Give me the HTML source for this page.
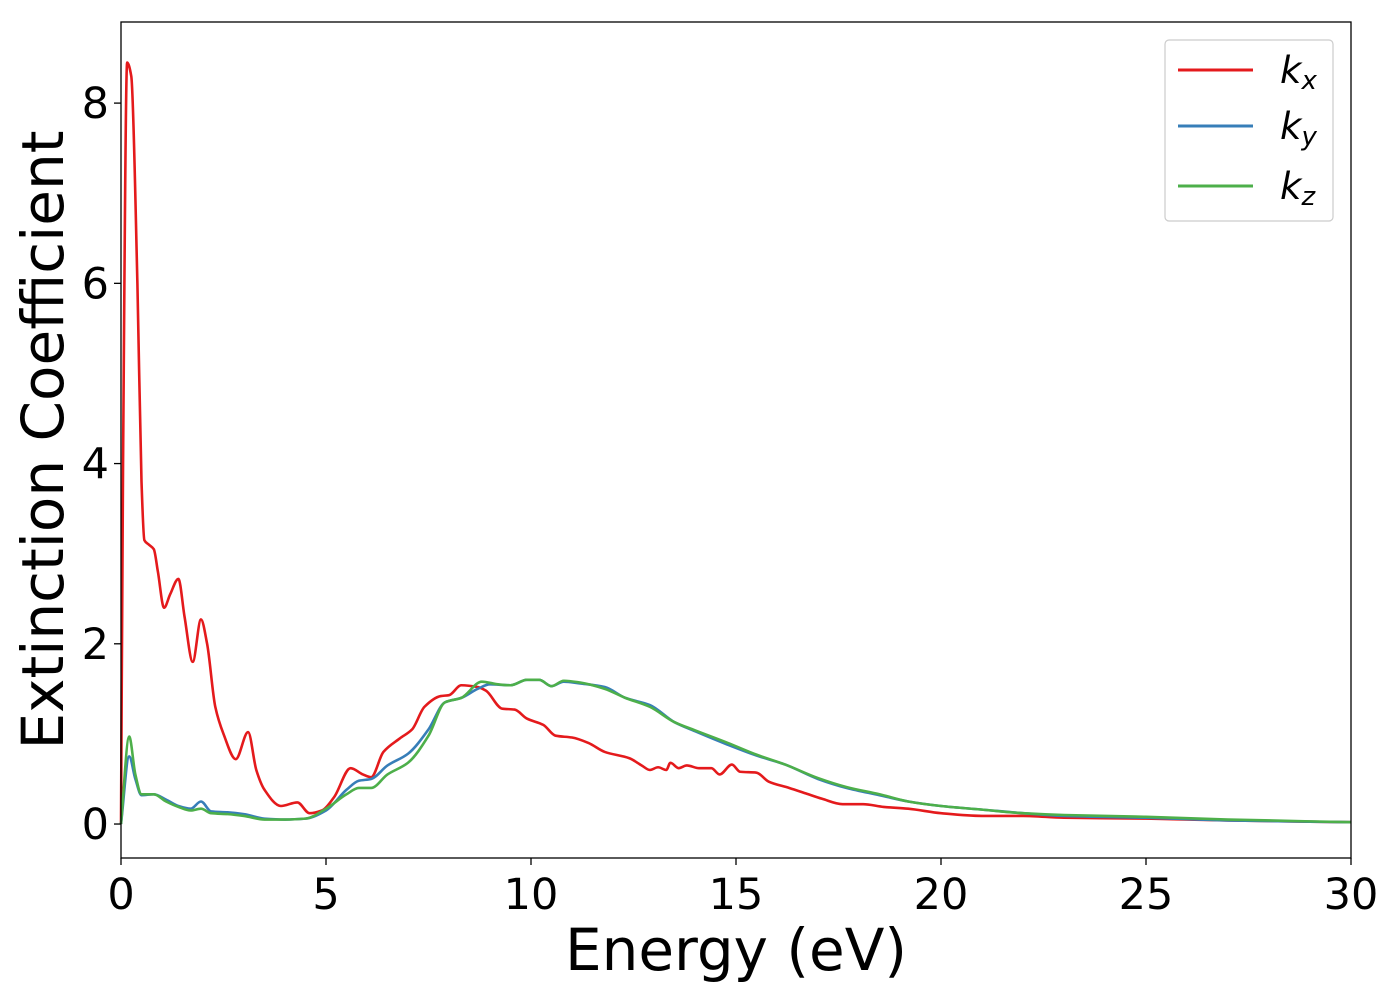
<!DOCTYPE html>
<html><head><meta charset="utf-8"><style>
html,body{margin:0;padding:0;background:#fff;}
svg{display:block;font-family:"DejaVu Sans","Liberation Sans",sans-serif;}
</style></head><body>
<svg id="chart" width="1400" height="1000" viewBox="0 0 1400 1000" xmlns="http://www.w3.org/2000/svg">
<rect width="1400" height="1000" fill="#fff"/>
<g id="series"></g>
<rect x="121" y="22" width="1230" height="836" fill="none" stroke="#000" stroke-width="1.3"/>
<g id="ticks"></g>
<text x="736" y="970" font-size="58" text-anchor="middle">Energy (eV)</text>
<text transform="translate(63,440) rotate(-90)" font-size="58" text-anchor="middle">Extinction Coefficient</text>
<g>
<rect x="1165" y="40" width="168" height="181" rx="4" fill="#fff" stroke="#ccc" stroke-width="1.2"/>
<line x1="1178" y1="70" x2="1253" y2="70" stroke="#e41a1c" stroke-width="3"/>
<line x1="1178" y1="126" x2="1253" y2="126" stroke="#377eb8" stroke-width="3"/>
<line x1="1178" y1="186" x2="1253" y2="186" stroke="#4daf4a" stroke-width="3"/>
<text x="1280" y="83" font-size="37" font-style="italic">k<tspan font-size="26" dy="6">x</tspan></text>
<text x="1280" y="139" font-size="37" font-style="italic">k<tspan font-size="26" dy="6">y</tspan></text>
<text x="1280" y="199" font-size="37" font-style="italic">k<tspan font-size="26" dy="6">z</tspan></text>
</g>
</svg>
<script>
const xTicks = [0,5,10,15,20,25,30];
const yTicks = [0,2,4,6,8];
const kxE = [0,0.05,0.15,0.25,0.4,0.5,0.57,0.68,0.8,0.9,1.05,1.2,1.4,1.55,1.75,1.95,2.1,2.3,2.5,2.8,3.1,3.3,3.5,3.9,4.3,4.6,4.9,5.2,5.6,5.9,6.1,6.4,6.8,7.1,7.4,7.8,8.0,8.3,8.7,8.9,9.3,9.6,9.9,10.3,10.6,11.0,11.4,11.8,12.4,12.7,12.9,13.1,13.3,13.4,13.6,13.8,14.1,14.4,14.6,14.9,15.1,15.5,15.8,16.3,16.7,17.1,17.6,18.1,18.6,19.2,20,21,22,23,25,27,30];
const kxV = [0,4.0,8.45,8.3,6.0,3.8,3.15,3.1,3.05,2.8,2.4,2.55,2.72,2.3,1.8,2.27,2.0,1.3,1.0,0.72,1.02,0.6,0.38,0.2,0.24,0.12,0.15,0.3,0.62,0.55,0.52,0.8,0.95,1.05,1.3,1.42,1.43,1.54,1.52,1.48,1.28,1.27,1.17,1.1,0.98,0.96,0.9,0.8,0.73,0.65,0.6,0.63,0.6,0.68,0.62,0.65,0.62,0.62,0.55,0.66,0.58,0.57,0.47,0.4,0.34,0.28,0.22,0.22,0.19,0.17,0.12,0.09,0.09,0.07,0.06,0.04,0.02];
const kyE = [0,0.2,0.35,0.5,0.8,1.1,1.4,1.7,1.95,2.2,2.6,3.0,3.5,4.0,4.5,5.0,5.5,5.8,6.1,6.5,7.0,7.5,7.9,8.3,8.7,9.0,9.5,9.9,10.2,10.5,10.8,11.2,11.8,12.3,12.9,13.5,14.0,14.8,15.5,16.2,17.0,17.7,18.5,19.2,20,21,22,23,25,27,30];
const kyV = [0,0.75,0.5,0.32,0.33,0.27,0.2,0.17,0.25,0.14,0.13,0.11,0.06,0.05,0.06,0.15,0.38,0.48,0.5,0.65,0.78,1.05,1.35,1.4,1.5,1.55,1.54,1.6,1.6,1.53,1.58,1.56,1.52,1.4,1.32,1.13,1.03,0.88,0.76,0.66,0.5,0.4,0.32,0.25,0.2,0.16,0.12,0.09,0.07,0.04,0.02];
const kzE = [0,0.2,0.35,0.5,0.8,1.1,1.4,1.7,1.95,2.2,2.6,3.0,3.5,4.0,4.5,5.0,5.5,5.8,6.1,6.5,7.0,7.5,7.9,8.3,8.8,9.2,9.5,9.9,10.2,10.5,10.8,11.2,11.8,12.3,12.9,13.5,14.0,14.8,15.5,16.2,17.0,17.7,18.5,19.2,20,21,22,23,25,27,30];
const kzV = [0,0.97,0.55,0.33,0.33,0.25,0.19,0.15,0.17,0.12,0.11,0.09,0.05,0.05,0.06,0.17,0.33,0.4,0.4,0.55,0.68,0.98,1.35,1.4,1.58,1.55,1.54,1.6,1.6,1.53,1.59,1.57,1.5,1.4,1.3,1.13,1.04,0.9,0.77,0.66,0.51,0.41,0.33,0.25,0.2,0.16,0.12,0.1,0.08,0.05,0.02];

const NS = "http://www.w3.org/2000/svg";
const X0 = 121, X1 = 1351, YTOP = 22, YBOT = 858;
const xMin = 0, xMax = 30, yMin = -0.377, yMax = 8.9;
function sx(v){ return X0 + (v - xMin) / (xMax - xMin) * (X1 - X0); }
function sy(v){ return YBOT - (v - yMin) / (yMax - yMin) * (YBOT - YTOP); }

// monotone cubic (Fritsch–Carlson) — no overshoot
function smoothPath(es, vs){
  const p = es.map((e,i)=>[sx(e), sy(vs[i])]);
  const n = p.length;
  const d = [], m = new Array(n);
  for (let i=0;i<n-1;i++) d.push((p[i+1][1]-p[i][1])/(p[i+1][0]-p[i][0]));
  m[0]=d[0]; m[n-1]=d[n-2];
  for (let i=1;i<n-1;i++){
    if (d[i-1]*d[i] <= 0) m[i]=0;
    else {
      const h0=p[i][0]-p[i-1][0], h1=p[i+1][0]-p[i][0];
      m[i] = 3*(h0+h1)/((2*h1+h0)/d[i-1] + (h1+2*h0)/d[i]);
    }
  }
  let s = "M" + p[0][0].toFixed(2) + "," + p[0][1].toFixed(2);
  for (let i=0;i<n-1;i++){
    const h = (p[i+1][0]-p[i][0])/3;
    s += "C"+(p[i][0]+h).toFixed(2)+","+(p[i][1]+m[i]*h).toFixed(2)+" "+(p[i+1][0]-h).toFixed(2)+","+(p[i+1][1]-m[i+1]*h).toFixed(2)+" "+p[i+1][0].toFixed(2)+","+p[i+1][1].toFixed(2);
  }
  return s;
}

const seriesG = document.getElementById("series");
const series = [[kxE,kxV,"#e41a1c","series-kx"],[kyE,kyV,"#377eb8","series-ky"],[kzE,kzV,"#4daf4a","series-kz"]];
for (const s of series){
  const path = document.createElementNS(NS,"path");
  path.setAttribute("d", smoothPath(s[0], s[1]));
  path.setAttribute("fill","none");
  path.setAttribute("stroke", s[2]);
  path.setAttribute("stroke-width","2.6");
  path.setAttribute("stroke-linejoin","round");
  
  
  seriesG.appendChild(path);
}

const tg = document.getElementById("ticks");
for (const t of xTicks){
  const l = document.createElementNS(NS,"line");
  l.setAttribute("x1",sx(t)); l.setAttribute("x2",sx(t));
  l.setAttribute("y1",YBOT); l.setAttribute("y2",YBOT+7);
  l.setAttribute("stroke","#000"); l.setAttribute("stroke-width","1.3");
  
  
  tg.appendChild(l);
  const tx = document.createElementNS(NS,"text");
  tx.setAttribute("x",sx(t)); tx.setAttribute("y",909);
  tx.setAttribute("font-size","43"); tx.setAttribute("text-anchor","middle");
  tx.textContent = t;
  
  
  tg.appendChild(tx);
}
for (const t of yTicks){
  const l = document.createElementNS(NS,"line");
  l.setAttribute("x1",X0-7); l.setAttribute("x2",X0);
  l.setAttribute("y1",sy(t)); l.setAttribute("y2",sy(t));
  l.setAttribute("stroke","#000"); l.setAttribute("stroke-width","1.3");
  
  
  tg.appendChild(l);
  const tx = document.createElementNS(NS,"text");
  tx.setAttribute("x",X0-12); tx.setAttribute("y",sy(t)+15);
  tx.setAttribute("font-size","43"); tx.setAttribute("text-anchor","end");
  tx.textContent = t;
  
  
  tg.appendChild(tx);
}
</script>
</body></html>
